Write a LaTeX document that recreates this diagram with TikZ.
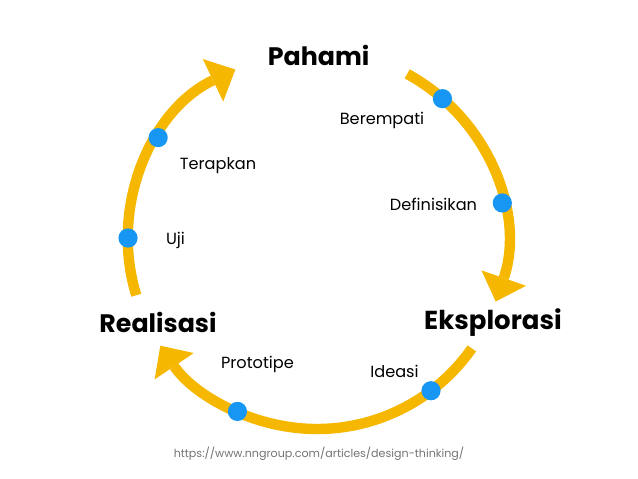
\documentclass[tikz,border=0pt]{standalone}
\usepackage{fontspec}
\setmainfont{Poppins}
\usetikzlibrary{arrows.meta,positioning}
\definecolor{cycle}{RGB}{246,183,0}
\definecolor{step}{RGB}{24,150,243}
\definecolor{link}{RGB}{115,115,115}

\begin{document}
\begin{tikzpicture}[
    arc/.style={draw=cycle, line width=0.26cm, -{Triangle[length=0.62cm, width=1.18cm, line width=0pt]}},
    dot/.style={circle, fill=step, inner sep=0pt, minimum size=0.48cm},
    phase/.style={anchor=base, font=\fontsize{18}{20}\selectfont\bfseries, text=black},
    sub/.style={anchor=base, font=\fontsize{11.5}{13}\selectfont, text=black},
]
\useasboundingbox (-7.925,-5.975) rectangle (8.025,6.0);
\def\R{4.725}

% Cycle arcs
\coordinate (s1) at (61.5:\R);
\coordinate (s2) at (-35:\R);
\coordinate (s3) at (197:\R);
\draw[arc] (s1) arc[start angle=61.5, end angle=-19, radius=\R];
\draw[arc] (s2) arc[start angle=-35, end angle=-146, radius=\R];
\draw[arc] (s3) arc[start angle=197, end angle=115.6, radius=\R];

% Steps on the cycle
\node[dot] (berempatiDot) at (48.4:\R) {};
\node[dot] (definisiDot) at (11.3:\R) {};
\node[dot] (ideasiDot) at (-52.9:\R) {};
\node[dot] (prototipeDot) at (-114.9:\R) {};
\node[dot] (ujiDot) at (179.4:\R) {};
\node[dot] (terapkanDot) at (147.2:\R) {};

% Phases
\node[phase] (pahami) at (0.04,4.35) {Pahami};
\node[phase, font=\fontsize{18.5}{20}\selectfont\bfseries] (eksplorasi) at (4.4,-2.225) {Eksplorasi};
\node[phase] (realisasi) at (-3.975,-2.3) {Realisasi};

% Step labels
\node[sub] (berempati) at (1.625,2.875) {Berempati};
\node[sub] (definisi) at (2.9125,0.725) {Definisikan};
\node[sub] (ideasi) at (1.9375,-3.425) {Ideasi};
\node[sub] (prototipe) at (-1.4875,-3.2) {Prototipe};
\node[sub] (uji) at (-3.5375,-0.125) {Uji};
\node[sub] (terapkan) at (-2.475,1.775) {Terapkan};

% Source
\node[anchor=base, font=\fontsize{7.9}{9}\selectfont, text=link] (src) at (0.05,-5.425) {https://www.nngroup.com/articles/design-thinking/};
\end{tikzpicture}
\end{document}
